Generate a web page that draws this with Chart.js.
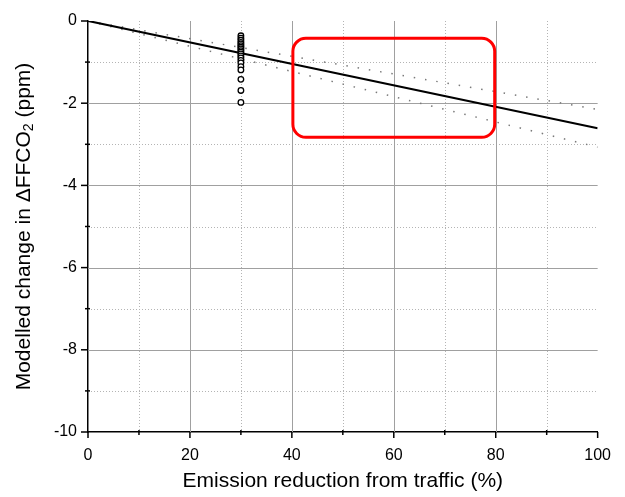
<!DOCTYPE html>
<html><head><meta charset="utf-8">
<script src="https://cdn.jsdelivr.net/npm/chart.js@4.4.1/dist/chart.umd.min.js"></script>
<style>html,body{margin:0;padding:0;background:#fff;} canvas{display:block}</style>
</head><body>
<canvas id="c" width="625" height="497"></canvas>
<script>
// ---- data ----
const fitX = [0, 100];
const fitY = [0, -2.61];
const upperBoundY = [0, -2.15];
const lowerBoundY = [0, -3.07];
const scenarioX = 30;
const scenarioY = [-0.36, -0.42, -0.47, -0.52, -0.56, -0.60, -0.64, -0.68, -0.72, -0.76,
                   -0.80, -0.85, -0.90, -0.96, -1.02, -1.11, -1.19, -1.42, -1.69, -1.98];
const xMajorTicks = [0, 20, 40, 60, 80, 100];
const xMinorTicks = [10, 30, 50, 70, 90];
const yMajorTicks = [0, -2, -4, -6, -8, -10];
const yMinorTicks = [-1, -3, -5, -7, -9];
const highlightX = [40.2, 79.8];
const highlightY = [-0.42, -2.83];

const FONT = '"Liberation Sans", Arial, Helvetica, sans-serif';
const toPts = (xs, ys) => xs.map((x, i) => ({x: x, y: ys[i]}));

const gridAndTicks = {
  id: 'gridAndTicks',
  beforeDatasetsDraw(chart) {
    const {ctx, chartArea: a, scales: {x, y}} = chart;
    ctx.save();
    ctx.strokeStyle = '#b4b4b4'; ctx.lineWidth = 1; ctx.setLineDash([1, 2]);
    xMinorTicks.forEach(v => { const px = Math.round(x.getPixelForValue(v)) + 0.5;
      ctx.beginPath(); ctx.moveTo(px, a.top); ctx.lineTo(px, a.bottom); ctx.stroke(); });
    yMinorTicks.forEach(v => { const py = Math.round(y.getPixelForValue(v)) + 0.5;
      ctx.beginPath(); ctx.moveTo(a.left, py); ctx.lineTo(a.right, py); ctx.stroke(); });
    ctx.setLineDash([]); ctx.strokeStyle = '#a0a0a0'; ctx.lineWidth = 1;
    xMajorTicks.filter(v => v !== x.min && v !== x.max).forEach(v => {
      const px = Math.round(x.getPixelForValue(v)) + 0.5;
      ctx.beginPath(); ctx.moveTo(px, a.top); ctx.lineTo(px, a.bottom); ctx.stroke(); });
    yMajorTicks.filter(v => v !== y.min && v !== y.max).forEach(v => {
      const py = Math.round(y.getPixelForValue(v)) + 0.5;
      ctx.beginPath(); ctx.moveTo(a.left, py); ctx.lineTo(a.right, py); ctx.stroke(); });
    ctx.restore();
  },
  afterDraw(chart) {
    const {ctx, chartArea: a, scales: {x, y}} = chart;
    ctx.save();
    ctx.strokeStyle = '#000'; ctx.lineWidth = 1.5; ctx.setLineDash([]);
    xMajorTicks.forEach(v => { const px = x.getPixelForValue(v);
      ctx.beginPath(); ctx.moveTo(px, a.bottom); ctx.lineTo(px, a.bottom + 6); ctx.stroke(); });
    xMinorTicks.forEach(v => { const px = x.getPixelForValue(v);
      ctx.beginPath(); ctx.moveTo(px, a.bottom - 2); ctx.lineTo(px, a.bottom + 3); ctx.stroke(); });
    yMajorTicks.forEach(v => { const py = y.getPixelForValue(v);
      ctx.beginPath(); ctx.moveTo(a.left - 7, py); ctx.lineTo(a.left, py); ctx.stroke(); });
    yMinorTicks.forEach(v => { const py = y.getPixelForValue(v);
      ctx.beginPath(); ctx.moveTo(a.left - 3, py); ctx.lineTo(a.left + 2, py); ctx.stroke(); });
    // y-axis title with subscript
    const cy = (a.top + a.bottom) / 2;
    const big = '21px ' + FONT, small = '14px ' + FONT;
    const parts = [['Modelled change in \u0394FFCO', big, 0], ['2', small, 5], [' (ppm)', big, 0]];
    let total = 0;
    parts.forEach(p => { ctx.font = p[1]; total += ctx.measureText(p[0]).width; });
    ctx.translate(24, cy); ctx.rotate(-Math.PI / 2);
    ctx.fillStyle = '#000'; ctx.textBaseline = 'middle'; ctx.textAlign = 'left';
    let xx = -total / 2;
    parts.forEach(p => { ctx.font = p[1]; ctx.fillText(p[0], xx, p[2]); xx += ctx.measureText(p[0]).width; });
    ctx.restore();
  }
};

const highlightBox = {
  id: 'highlightBox',
  afterDatasetsDraw(chart) {
    const {ctx, scales: {x, y}} = chart;
    const x0 = x.getPixelForValue(highlightX[0]), x1 = x.getPixelForValue(highlightX[1]);
    const y0 = y.getPixelForValue(highlightY[0]), y1 = y.getPixelForValue(highlightY[1]);
    ctx.save();
    ctx.strokeStyle = '#ff0000'; ctx.lineWidth = 3;
    ctx.beginPath(); ctx.roundRect(x0, y0, x1 - x0, y1 - y0, 13); ctx.stroke();
    ctx.restore();
  }
};

new Chart(document.getElementById('c'), {
  type: 'scatter',
  data: {
    datasets: [
      { type: 'line', data: toPts(fitX, upperBoundY), borderColor: '#7a7a7a', borderWidth: 1.5,
        borderDash: [1.5, 9.9], pointRadius: 0, fill: false, order: 3 },
      { type: 'line', data: toPts(fitX, lowerBoundY), borderColor: '#7a7a7a', borderWidth: 1.5,
        borderDash: [1.5, 9.9], pointRadius: 0, fill: false, order: 3 },
      { type: 'line', data: toPts(fitX, fitY), borderColor: '#000', borderWidth: 2.2,
        pointRadius: 0, fill: false, order: 2 },
      { type: 'scatter', data: scenarioY.map(v => ({x: scenarioX, y: v})), pointRadius: 2.8,
        pointBorderWidth: 1.3, borderColor: '#000', backgroundColor: '#fff', order: 1 }
    ]
  },
  options: {
    responsive: false, animation: false, devicePixelRatio: 1,
    layout: { padding: { top: 21, right: 27, left: 0, bottom: 0 } },
    plugins: { legend: { display: false }, tooltip: { enabled: false } },
    scales: {
      x: {
        type: 'linear', min: 0, max: 100,
        afterFit: s => { s.height = 65; },
        ticks: { stepSize: 20, padding: 14, color: '#000', font: { family: FONT, size: 16 } },
        grid: { display: false, drawTicks: false },
        border: { display: true, color: '#000', width: 1.5 },
        title: { display: true, text: 'Emission reduction from traffic (%)', color: '#000',
          font: { family: FONT, size: 21 }, padding: { top: 0, bottom: 3 } }
      },
      y: {
        type: 'linear', min: -10, max: 0,
        afterFit: s => { s.width = 88; },
        ticks: { stepSize: 2, padding: 11, color: '#000', font: { family: FONT, size: 16 } },
        grid: { display: false, drawTicks: false },
        border: { display: true, color: '#000', width: 1.5 }
      }
    }
  },
  plugins: [gridAndTicks, highlightBox]
});
</script>
</body></html>
